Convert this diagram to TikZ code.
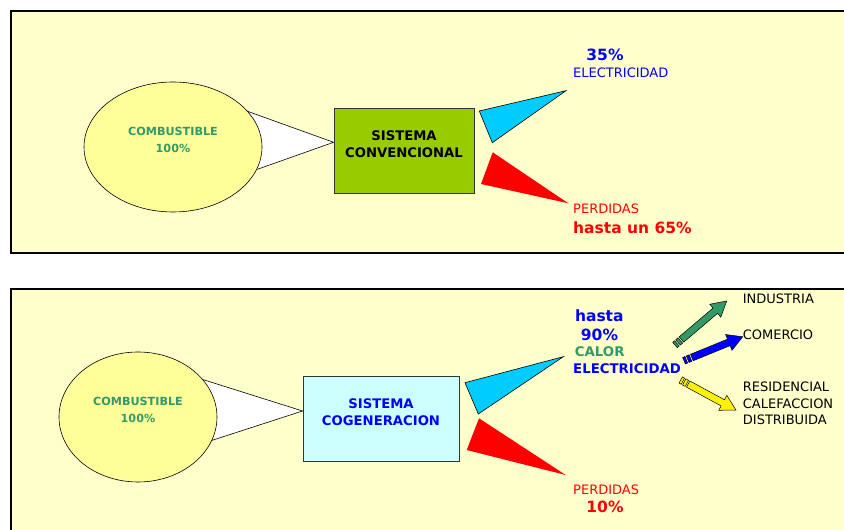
\documentclass[tikz,border=0pt]{standalone}
\usepackage{fontspec}
\setmainfont{DejaVu Sans}
\usetikzlibrary{shapes.geometric, calc, positioning}

\definecolor{panelbg}{RGB}{255,255,204}
\definecolor{fuelfill}{RGB}{255,255,153}
\definecolor{convgreen}{RGB}{153,204,0}
\definecolor{cogenfill}{RGB}{204,255,255}
\definecolor{elecfill}{RGB}{0,204,255}
\definecolor{txtgreen}{RGB}{51,153,102}

\tikzset{
  pics/stripe arrow/.style={code={
    \path[pic actions] (0,-3.5) rectangle (2.5,3.5);
    \path[pic actions] (4,-3.5) rectangle (7,3.5);
    \path[pic actions] (8.5,-3.5) -- (#1-15,-3.5) -- (#1-15,-8.5) -- (#1,0)
      -- (#1-15,8.5) -- (#1-15,3.5) -- (8.5,3.5) -- cycle;
  }}
}

\begin{document}
\begin{tikzpicture}[x=1pt, y=1pt,
  panel/.style={draw=black, line width=2.5pt, fill=panelbg},
  fuel/.style={ellipse, draw=black, line width=0.6pt, fill=fuelfill,
    minimum width=178pt, minimum height=130pt},
  sysbox/.style={rectangle, draw=black!80, line width=0.8pt,
    minimum width=140pt, minimum height=85pt},
  feed/.style={draw=black, line width=0.6pt, fill=white},
  outgain/.style={draw=black, line width=0.6pt, fill=elecfill},
  outloss/.style={fill=red},
  fueltxt/.style={inner sep=0pt, align=center, text=txtgreen,
    font=\fontsize{11.2}{17}\selectfont\bfseries},
  systxt/.style={inner sep=0pt, align=center,
    font=\fontsize{13.2}{16.5}\selectfont\bfseries},
  lbl/.style={inner sep=0pt, font=\fontsize{13}{16.7}\selectfont},
  bolds/.style={inner sep=0pt, font=\fontsize{13.3}{16}\selectfont\bfseries},
  pct/.style={inner sep=0pt, font=\fontsize{15.5}{18}\selectfont\bfseries},
  usearrow/.style={draw=black, line width=0.5pt}]

\useasboundingbox (0,0) rectangle (844,530);
\clip (0,0) rectangle (844,530);

% panels
\draw[panel] (11,519) rectangle (870,277);
\draw[panel] (11,241) rectangle (870,-20);

%% conventional system
\node[sysbox, fill=convgreen] (conv) at (404,379.5) {};
\coordinate (convin) at ($(conv.west)+(0,8.2)$);
\filldraw[feed] (convin) -- (230,425) -- (230,351) -- cycle;
\node[fuel] (fuel1) at (173,383) {};
\node[fueltxt] (fuel1txt) at (173,390.5) {COMBUSTIBLE\\100\%};
\node[systxt] (conv1txt) at (404,386) {SISTEMA\\CONVENCIONAL};

\filldraw[outgain] (479.3,419) -- (566,439.3) -- (492.3,387.3) -- cycle;
\fill[outloss] (492.7,377.7) -- (481,346) -- (568.3,326.7) -- cycle;

\node[pct, text=blue] (pct1) at (605,475) {35\%};
\node[lbl, text=blue, anchor=west] (elec1) at (573,457) {ELECTRICIDAD};
\node[lbl, text=red, anchor=west] (loss1) at (573,321) {PERDIDAS};
\node[pct, text=red, anchor=west] (loss1pct) at (573,302) {hasta un 65\%};

%% cogeneration system
\node[sysbox, fill=cogenfill, minimum width=156pt] (cogen) at (381,111.5) {};
\coordinate (cogenin) at ($(cogen.west)+(0,7.5)$);
\filldraw[feed] (cogenin) -- (190,154.5) -- (190,82.5) -- cycle;
\node[fuel, minimum width=158pt] (fuel2) at (138,113) {};
\node[fueltxt] (fuel2txt) at (138,120) {COMBUSTIBLE\\100\%};
\node[systxt, text=blue] (cogentxt) at (381,118) {SISTEMA\\COGENERACION};

\filldraw[outgain] (465,147.3) -- (563.3,173.3) -- (478.3,116) -- cycle;
\fill[outloss] (479,111.7) -- (466.7,80) -- (565.7,55) -- cycle;

\node[pct, text=blue] (upto) at (599.3,214) {hasta};
\node[pct, text=blue] (pct2) at (599.5,195) {90\%};
\node[bolds, text=txtgreen] (heat) at (599.7,178) {CALOR};
\node[bolds, text=blue, anchor=west] (elec2) at (573,161) {ELECTRICIDAD};
\node[lbl, text=red, anchor=west] (loss2) at (573,40.7) {PERDIDAS};
\node[pct, text=red] (loss2pct) at (605,23.3) {10\%};

% uses
\node[lbl, anchor=west] (ind) at (742.7,231.7) {INDUSTRIA};
\node[lbl, anchor=west] (com) at (742.7,195) {COMERCIO};
\node[lbl, anchor=west, align=left] (res) at (742.7,126.7)
  {RESIDENCIAL\\CALEFACCION\\DISTRIBUIDA};

\coordinate (indtail) at (675,185);
\coordinate (comtail) at (684,169.3);
\coordinate (restail) at (680.7,150);
\pic[usearrow, fill=txtgreen, rotate=40.4] at (indtail) {stripe arrow=67.9};
\pic[usearrow, fill=blue, rotate=22.2] at (comtail) {stripe arrow=63.4};
\pic[usearrow, fill=yellow, rotate=-28.5] at (restail) {stripe arrow=62.9};

\end{tikzpicture}
\end{document}
